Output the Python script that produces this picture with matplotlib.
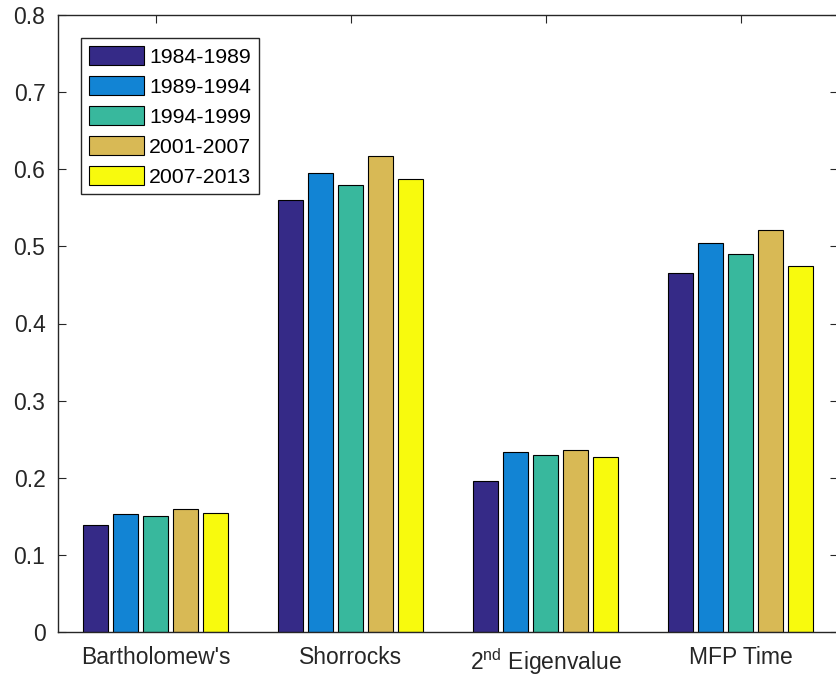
import matplotlib
matplotlib.use("Agg")
import matplotlib.pyplot as plt
import numpy as np

plt.rcParams["font.family"] = ["Liberation Sans", "DejaVu Sans"]
plt.rcParams["mathtext.fontset"] = "custom"
plt.rcParams["mathtext.rm"] = "Liberation Sans"
plt.rcParams["mathtext.it"] = "Liberation Sans:italic"

categories = ["Bartholomew's", "Shorrocks", "2$^{\\mathrm{nd}}$ Eigenvalue", "MFP Time"]
periods = ["1984-1989", "1989-1994", "1994-1999", "2001-2007", "2007-2013"]
values = {
    "1984-1989": [0.139, 0.560, 0.196, 0.466],
    "1989-1994": [0.153, 0.595, 0.234, 0.505],
    "1994-1999": [0.150, 0.579, 0.229, 0.490],
    "2001-2007": [0.159, 0.617, 0.236, 0.521],
    "2007-2013": [0.154, 0.588, 0.227, 0.475],
}
colors = ["#352A87", "#1284D4", "#38B89D", "#D8B955", "#F8FA0D"]
yticks = [0, 0.1, 0.2, 0.3, 0.4, 0.5, 0.6, 0.7, 0.8]

axis_gray = "#262626"

fig = plt.figure(figsize=(8.36, 6.83), dpi=100)
ax = fig.add_axes([58 / 836, 51 / 683, 780 / 836, 617 / 683])

x = np.arange(1, len(categories) + 1)
step = 0.1536
width = 0.1245
n = len(periods)
for i, (p, c) in enumerate(zip(periods, colors)):
    offs = (i - (n - 1) / 2) * step
    ax.bar(x + offs, values[p], width=width, color=c, edgecolor="black",
           linewidth=0.8, label=p, zorder=2)

ax.set_xlim(0.5, 4.5)
ax.set_ylim(0, 0.8)
ax.set_xticks(x)
ax.set_xticklabels(categories)
ax.set_yticks(yticks)
ax.set_yticklabels(["0"] + [f"{v:.1f}" for v in yticks[1:]])

ax.tick_params(axis="both", direction="in", length=6, width=0.8,
               colors=axis_gray, labelsize=16.5, top=True, right=True)
ax.tick_params(axis="x", pad=10)
ax.tick_params(axis="y", pad=9)
for s in ax.spines.values():
    s.set_color(axis_gray)
    s.set_linewidth(1.0)

leg = ax.legend(loc="upper left", bbox_to_anchor=(23 / 780, 1 - 23 / 617),
                borderaxespad=0, fontsize=15.3, handlelength=2.6,
                handleheight=1.04, labelspacing=0.42, handletextpad=0.25,
                borderpad=0.36, fancybox=False, framealpha=1)
leg.get_frame().set_edgecolor(axis_gray)
leg.get_frame().set_linewidth(1.0)

fig.savefig("out.png", dpi=100)
